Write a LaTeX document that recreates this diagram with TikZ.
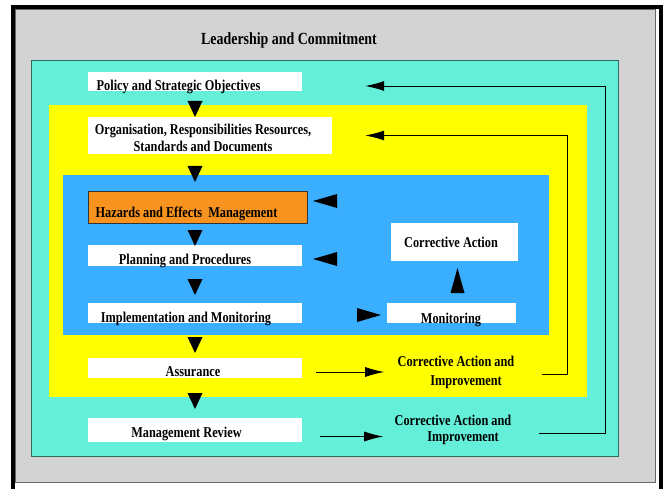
\documentclass[tikz,border=0pt]{standalone}
\usepackage{fontspec}
\setmainfont{Liberation Serif}[FakeStretch=0.82]
\usetikzlibrary{calc}
\usetikzlibrary{arrows.meta}
\definecolor{mygray}{HTML}{D3D3D3}
\definecolor{mycyan}{HTML}{63EFD8}
\definecolor{myteal}{HTML}{2F6B63}
\definecolor{myyellow}{HTML}{FFFF00}
\definecolor{myblue}{HTML}{3BAFFF}
\definecolor{myorange}{HTML}{F7931E}

\begin{document}
\begin{tikzpicture}[x=1pt,y=-1pt,>={Latex[length=19pt,width=10pt]},
    wbox/.style={fill=white, inner sep=0pt},
    lbl/.style={inner sep=0pt, anchor=base,
      font=\bfseries\fontsize{15}{16.7}\selectfont},
    down/.pic={\fill (-7.5,-8) -- (7.5,-8) -- (0,8) -- cycle;},
    left/.pic={\fill (-12,0) -- (12,-7) -- (12,7) -- cycle;},
    right/.pic={\fill (12,0) -- (-12,-7) -- (-12,7) -- cycle;},
    up/.pic={\fill (0,-12.5) -- (7,12.5) -- (-7,12.5) -- cycle;}]

      \useasboundingbox (0,0) rectangle (663,489);

      % frame
      \draw[line width=4pt] (13,489) -- (13,7) -- (661,7) -- (661,489);
      \filldraw[fill=mygray, draw=black!60, line width=0.8pt] (15,9) rectangle (655,482);
      \filldraw[fill=mycyan, draw=myteal, line width=1pt] (31,61) rectangle (618,456);
      \fill[myyellow] (49,105) rectangle (587,397);
      \fill[myblue] (63,175) rectangle (549,335);

      % title
      \node[lbl, font=\bfseries\fontsize{17}{18}\selectfont] (lead) at (289,45)
      {Leadership and Commitment};

      % boxes
      \node[wbox, minimum width=214pt, minimum height=19pt] (policy) at (195,81.5) {};
      \node[wbox, minimum width=244pt, minimum height=37pt] (org) at (210,135.5) {};
      \node[wbox, fill=myorange, draw=black!80, line width=0.8pt,
      minimum width=219pt, minimum height=32pt] (haz) at (197.5,207) {};
      \node[wbox, minimum width=214pt, minimum height=21pt] (plan) at (195,255.5) {};
      \node[wbox, minimum width=214pt, minimum height=20pt] (impl) at (195,313) {};
      \node[wbox, minimum width=127pt, minimum height=38pt] (corr) at (454.5,242) {};
      \node[wbox, minimum width=129pt, minimum height=20pt] (mon) at (451.5,313) {};
      \node[wbox, minimum width=214pt, minimum height=20pt] (assur) at (195,368) {};
      \node[wbox, minimum width=214pt, minimum height=24pt] (mgmt) at (195,430) {};

      % texts (two-line ones sit on their last line)
      \node[lbl] (policyt) at (178.5,91) {Policy and Strategic Objectives};
      \node[lbl, align=center] (orgt) at (203,151.7)
      {Organisation, Responsibilities Resources,\\Standards and Documents};
      \node[lbl] (hazt) at (186.5,217.7) {Hazards and Effects\ \ Management};
      \node[lbl] (plant) at (185,264.3) {Planning and Procedures};
      \node[lbl] (implt) at (186,322.3) {Implementation and Monitoring};
      \node[lbl] (corrt) at (451,247.7) {Corrective Action};
      \node[lbl] (mont) at (451,323.3) {Monitoring};
      \node[lbl] (assurt) at (193,376.7) {Assurance};
      \node[lbl] (mgmtt) at (186.5,437.7) {Management Review};
      \node[lbl, align=center, font=\bfseries\fontsize{15}{18.3}\selectfont] (ci1) at (456,385)
      {Corrective Action and\\\hspace*{20pt}Improvement};
      \node[lbl, align=center] (ci2) at (453,441.7)
      {Corrective Action and\\\hspace*{20pt}Improvement};

      % flow triangles
      \pic at (195,109) {down};
      \pic at (195,174) {down};
      \pic at (195,238) {down};
      \pic at (195,287) {down};
      \pic at (195,345) {down};
      \pic at (195,401) {down};
      \pic at (325,201) {left};
      \pic at (325,259) {left};
      \pic at (369,315) {right};
      \pic at (457.5,280.5) {up};

      % arrows
      \draw[->, line width=0.9pt] (assur.east) ++(14,4) -- ++(68,0);
      \draw[->, line width=0.9pt] (mgmt.east) ++(18,6.5) -- ++(63,0);

      % feedback loops
      \coordinate (f1) at (542,374);
      \coordinate (f2) at (539,433);
      \draw[->, line width=0.9pt, shorten >=33pt] (f1) -| ($(org.east)+(235,0)$) -- (org.east);
      \draw[->, line width=0.9pt, shorten >=63pt] (f2) -| ($(policy.east)+(303,4.5)$)
      -- ($(policy.east)+(0,4.5)$);

\end{tikzpicture}
\end{document}
